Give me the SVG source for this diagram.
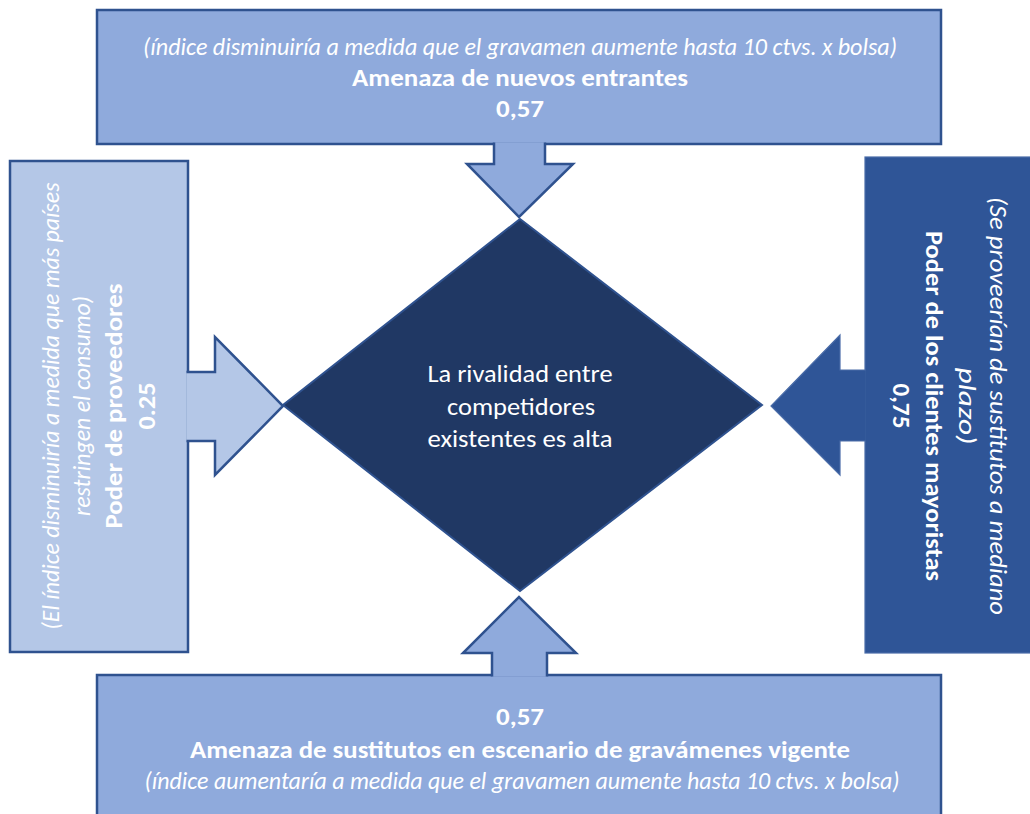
<svg xmlns="http://www.w3.org/2000/svg" width="1030" height="814" viewBox="0 0 1030 814">
<style>
.t{font-family:Carlito,Lato,"Liberation Sans",sans-serif;font-size:24px;fill:#ffffff;text-anchor:middle}
.i{font-style:italic}
.b{font-weight:bold}
.mid{fill:#8FAADC;stroke:#2F528F;stroke-width:2.5}
.light{fill:#B4C7E7;stroke:#2F528F;stroke-width:2.5}
.dark{fill:#2F5597;stroke:#4A6CA8;stroke-width:1.2}
.dia{fill:#203864;stroke:#2F528F;stroke-width:2}
</style>
<rect width="1030" height="814" fill="#ffffff"/>
<g id="nuevos-entrantes">
<rect class="mid" x="97" y="10" width="844" height="134"/>
<text class="t i" x="520" y="55" textLength="754" lengthAdjust="spacingAndGlyphs">(índice disminuiría a medida que el gravamen aumente hasta 10 ctvs. x bolsa)</text>
<text class="t b" x="520" y="86" textLength="336" lengthAdjust="spacingAndGlyphs">Amenaza de nuevos entrantes</text>
<text class="t b" x="520" y="117" textLength="48" lengthAdjust="spacingAndGlyphs">0,57</text>
</g>
<g id="sustitutos">
<rect class="mid" x="97" y="675" width="844" height="150"/>
<text class="t b" x="520" y="725" textLength="48" lengthAdjust="spacingAndGlyphs">0,57</text>
<text class="t b" x="520" y="758" textLength="660" lengthAdjust="spacingAndGlyphs">Amenaza de sustitutos en escenario de gravámenes vigente</text>
<text class="t i" x="522" y="789" textLength="755" lengthAdjust="spacingAndGlyphs">(índice aumentaría a medida que el gravamen aumente hasta 10 ctvs. x bolsa)</text>
</g>
<g id="proveedores">
<rect class="light" x="10" y="161" width="178" height="491"/>
<g transform="translate(0,406) rotate(-90)">
<text class="t i" x="0" y="59" textLength="447" lengthAdjust="spacingAndGlyphs">(El índice disminuiría a medida que más países</text>
<text class="t i" x="0" y="90" textLength="220" lengthAdjust="spacingAndGlyphs">restringen el consumo)</text>
<text class="t b" x="0" y="122" textLength="245" lengthAdjust="spacingAndGlyphs">Poder de proveedores</text>
<text class="t b" x="0" y="155" textLength="47" lengthAdjust="spacingAndGlyphs">0.25</text>
</g>
</g>
<g id="clientes">
<rect class="dark" x="865" y="157" width="175" height="496"/>
<g transform="translate(0,406) rotate(90)">
<text class="t i" x="0" y="-990" textLength="418" lengthAdjust="spacingAndGlyphs">(Se proveerían de sustitutos a mediano</text>
<text class="t i" x="0" y="-959" textLength="77" lengthAdjust="spacingAndGlyphs">plazo)</text>
<text class="t b" x="0" y="-926" textLength="350" lengthAdjust="spacingAndGlyphs">Poder de los clientes mayoristas</text>
<text class="t b" x="0" y="-893" textLength="45" lengthAdjust="spacingAndGlyphs">0,75</text>
</g>
</g>
<g id="rivalidad">
<polygon class="dia" points="520,219 762,405 520,591 283,405"/>
<text class="t" x="520" y="382" textLength="185" lengthAdjust="spacingAndGlyphs">La rivalidad entre</text>
<text class="t" x="521" y="415" textLength="148" lengthAdjust="spacingAndGlyphs">competidores</text>
<text class="t" x="520" y="447" textLength="185" lengthAdjust="spacingAndGlyphs">existentes es alta</text>
</g>
<g id="connectors">
<path class="mid" d="M494,142.5 V164 H467 L519,217 L573,164 H545 V142.5"/>
<path class="mid" d="M492,676.5 V653 H463 L519,597 L576,653 H547 V676.5"/>
<path class="light" d="M186.5,372 H215 V337 L283,406 L215,475 V441 H186.5"/>
<path class="dark" d="M865.6,370 H840 V335 L771,406 L840,475 V441 H865.6"/>
</g>
</svg>
